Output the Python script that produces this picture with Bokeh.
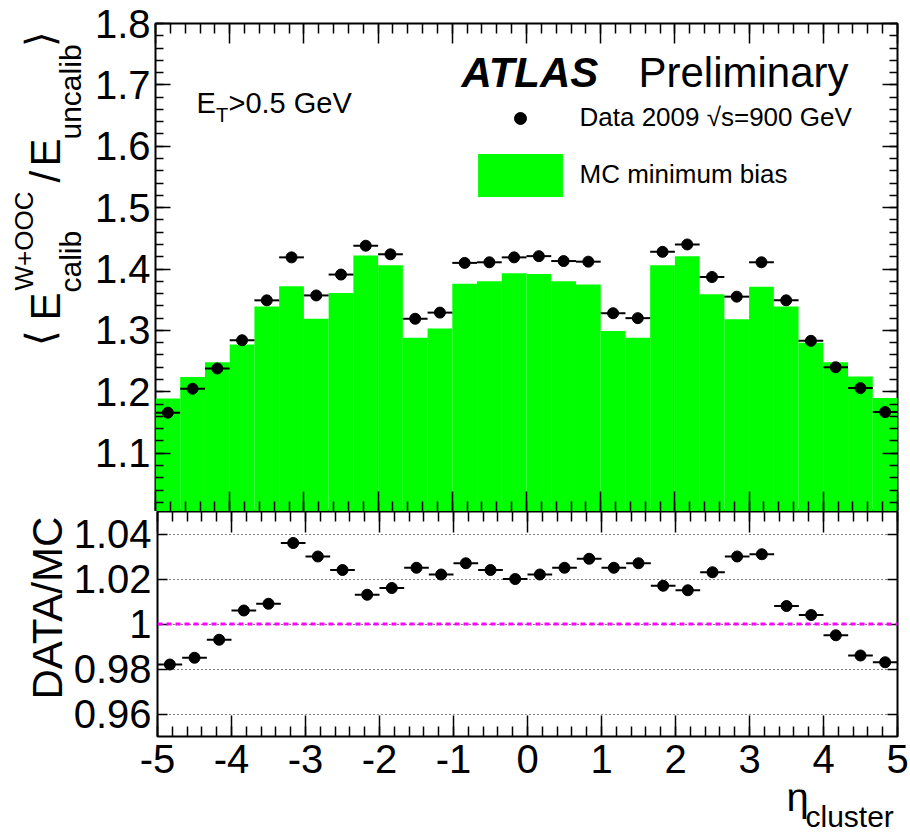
import numpy as np
from bokeh.plotting import figure
from bokeh.layouts import column, row
from bokeh.models import (LinearAxis, SingleIntervalTicker, FixedTicker, Range1d, Label,
                          Legend, LegendItem, Span, Grid, CustomLabelingPolicy)
from bokeh.embed import file_html
from bokeh.resources import INLINE

# ---------------- data ----------------
eta_edges = np.linspace(-5.0, 5.0, 31)          # 30 bins of width 1/3
data_mean = [1.166, 1.205, 1.238, 1.284, 1.349, 1.419, 1.357, 1.391, 1.438, 1.424,
             1.319, 1.329, 1.410, 1.411, 1.419, 1.421, 1.413, 1.412, 1.328, 1.320,
             1.428, 1.440, 1.387, 1.355, 1.411, 1.349, 1.283, 1.240, 1.206, 1.167]
mc_mean = [1.189, 1.224, 1.248, 1.277, 1.339, 1.372, 1.319, 1.361, 1.422, 1.406,
           1.288, 1.303, 1.376, 1.380, 1.393, 1.392, 1.380, 1.375, 1.299, 1.288,
           1.406, 1.421, 1.359, 1.318, 1.371, 1.339, 1.280, 1.248, 1.225, 1.190]
ratio = [0.982, 0.985, 0.993, 1.006, 1.009, 1.036, 1.030, 1.024, 1.013, 1.016,
         1.025, 1.022, 1.027, 1.024, 1.020, 1.022, 1.025, 1.029, 1.025, 1.027,
         1.017, 1.015, 1.023, 1.030, 1.031, 1.008, 1.004, 0.995, 0.986, 0.983]
eta_ticks = [-5, -4, -3, -2, -1, 0, 1, 2, 3, 4, 5]
eta_tick_labels = ["-5", "-4", "-3", "-2", "-1", "0", "1", "2", "3", "4", "5"]
ratio_ticks = [0.96, 0.98, 1.0, 1.02, 1.04]
ratio_tick_labels = ["0.96", "0.98", "1", "1.02", "1.04"]
ratio_ref = 1.0

FONT = "Liberation Sans"
GREEN = "#00ff00"

bin_lo = eta_edges[:-1]
bin_hi = eta_edges[1:]
bin_c = 0.5 * (bin_lo + bin_hi)

# ---------------- layout geometry (pixels) ----------------
TOTAL_W = 910
LW_TOP = 85        # strip left of the top panel (rotated title)
LW_BOT = 70        # strip left of the ratio panel ("DATA/MC")
FRAME_L, FRAME_W = 155, 742
TOP_H = 511
TOP_BORDER = 23
BOT_H = 278
BOT_FRAME_H = 225
ETA_H = 833 - TOP_H - BOT_H
BASE = 0.35        # measured shift between a Label's anchor and its drawn baseline (x font size)

# pixel -> data helpers for text placement inside the top frame (x 155..897, y 23..511)
def tx(px):
    return -5.0 + (px - 155.0) / 74.2

def ty(py):
    return 1.8 - (py - 23.0) / (488.0 / 0.795)


HIDE = "const n = indices.size; for (let i = 0; i < n; i++) { indices.unset(i) } return indices"


def axis(ticker, tin, minor_in, labels=False, size="40px", standoff=5, overrides=None):
    ax = LinearAxis(ticker=ticker)
    ax.axis_line_color = None
    ax.major_tick_in = tin
    ax.major_tick_out = 0
    ax.minor_tick_in = minor_in
    ax.minor_tick_out = 0
    ax.major_tick_line_color = "black"
    ax.minor_tick_line_color = "black"
    ax.major_tick_line_width = 1.5
    ax.minor_tick_line_width = 1.5
    if labels:
        ax.major_label_text_font = FONT
        ax.major_label_text_font_size = size
        ax.major_label_text_color = "black"
        ax.major_label_standoff = standoff
        if overrides:
            ax.major_label_overrides = overrides
    else:
        ax.major_label_text_font_size = "0px"
        ax.major_label_standoff = 0
        ax.major_label_policy = CustomLabelingPolicy(code=HIDE)
    return ax


def clear_grids(fig):
    fig.center = [r for r in fig.center if not isinstance(r, Grid)]


def lab(fig, x, y, text, size, style="normal", angle=0.0):
    fig.add_layout(Label(x=x, y=y, text=text,
                         text_font=FONT, text_font_size=f"{size}px",
                         text_font_style=style, text_baseline="alphabetic",
                         text_align="left", angle=angle, text_color="black"))


def top_text(px, base_py, text, size, style="normal"):
    lab(top, tx(px), ty(base_py - BASE * size), text, size, style)


def strip(w, h, xr, yr, mb_top=0, mb_bot=0):
    # blank figure whose data space equals page pixels (y downwards), for texts outside the frames
    f = figure(width=w, height=h, x_range=Range1d(*xr), y_range=Range1d(*yr),
               output_backend="svg", toolbar_location=None,
               x_axis_location=None, y_axis_location=None,
               min_border_left=0, min_border_right=0,
               min_border_top=mb_top, min_border_bottom=mb_bot)
    clear_grids(f)
    f.outline_line_color = None
    f.background_fill_color = "white"
    f.border_fill_color = "white"
    return f


def vtext(fig, base_px, start_py, text, size):
    # text rotated to read upwards; base_px = x of its baseline, start_py = y where it starts
    lab(fig, base_px - BASE * size, start_py, text, size, angle=np.pi / 2)


def panel(width, height, yr, ml, top_border, bottom_border):
    f = figure(width=width, height=height, x_range=Range1d(-5, 5), y_range=yr,
               output_backend="svg", toolbar_location=None,
               x_axis_location=None, y_axis_location=None,
               min_border_left=ml, min_border_right=width - ml - FRAME_W,
               min_border_top=top_border, min_border_bottom=bottom_border)
    clear_grids(f)
    f.outline_line_color = "black"
    f.outline_line_width = 2
    f.background_fill_color = "white"
    f.border_fill_color = "white"
    return f


# ---------------- top panel ----------------
top = panel(TOTAL_W - LW_TOP, TOP_H, Range1d(1.005, 1.8), FRAME_L - LW_TOP, TOP_BORDER, 0)

xt = SingleIntervalTicker(interval=1, num_minor_ticks=5)
yt = SingleIntervalTicker(interval=0.1, num_minor_ticks=5)
top.add_layout(axis(yt, 15, 8, labels=True, size="40px", standoff=5), "left")
top.add_layout(axis(yt, 15, 8), "right")
top.add_layout(axis(xt, 20, 10), "above")
top.add_layout(axis(xt, 20, 10), "below")

mc_r = top.quad(left=bin_lo, right=bin_hi, bottom=0, top=mc_mean,
                fill_color=GREEN, line_color=None)
top.segment(x0=bin_lo, x1=bin_hi, y0=data_mean, y1=data_mean,
            line_color="black", line_width=2)
data_r = top.scatter(bin_c, data_mean, size=11, color="black")

leg_data = Legend(items=[LegendItem(label="Data 2009 \u221as=900 GeV", renderers=[data_r])],
                  location=(311.5, 378), glyph_width=106, glyph_height=30,
                  label_standoff=7, padding=0, margin=0, spacing=0,
                  border_line_color=None, background_fill_alpha=0,
                  label_text_font=FONT, label_text_font_size="26px",
                  label_text_color="black")
leg_mc = Legend(items=[LegendItem(label="MC minimum bias", renderers=[mc_r])],
                location=(311.5, 309.5), glyph_width=106, glyph_height=54,
                label_standoff=7, padding=0, margin=0, spacing=0,
                border_line_color=None, background_fill_alpha=0,
                label_text_font=FONT, label_text_font_size="26px",
                label_text_color="black")
top.add_layout(leg_data)
top.add_layout(leg_mc)

top_text(461, 87, "ATLAS", 42, "bold italic")
top_text(638, 87, "Preliminary", 42)
top_text(196, 113, "E", 29)
top_text(215.5, 121, "T", 20)
top_text(228, 113, ">0.5 GeV", 29)

# ---------------- bottom (ratio) panel ----------------
bot = panel(TOTAL_W - LW_BOT, BOT_H, Range1d(0.95, 1.05), FRAME_L - LW_BOT, 0,
            BOT_H - BOT_FRAME_H)

rt = FixedTicker(ticks=ratio_ticks)
et = SingleIntervalTicker(interval=1, num_minor_ticks=5)
bot.add_layout(axis(rt, 10, 0, labels=True, size="40px", standoff=6,
                    overrides=dict(zip(ratio_ticks, ratio_tick_labels))), "left")
bot.add_layout(axis(rt, 10, 0), "right")
bot.add_layout(axis(et, 21, 10), "above")
bot.add_layout(axis(et, 21, 10, labels=True, size="40px", standoff=8,
                    overrides=dict(zip(eta_ticks, eta_tick_labels))), "below")

bot.add_layout(Grid(dimension=1, ticker=rt, grid_line_color="black",
                    grid_line_dash="1 3", grid_line_width=1))
bot.add_layout(Span(location=ratio_ref, dimension="width", line_color="#ff00ff",
                    line_dash="5 4", line_width=3))

bot.segment(x0=bin_lo, x1=bin_hi, y0=ratio, y1=ratio, line_color="black", line_width=2)
bot.scatter(bin_c, ratio, size=11, color="black")

# ---------------- text strips outside the frames (page-pixel coordinates) ----------------
left_top = strip(LW_TOP, TOP_H, (0, LW_TOP), (TOP_H, TOP_BORDER), mb_top=TOP_BORDER)
# < E^{W+OOC}_{calib} / E_{uncalib} >
vtext(left_top, 53, 345, "\u27e8", 40)
vtext(left_top, 60, 320, "E", 42)
vtext(left_top, 33, 290, "W+OOC", 26)
vtext(left_top, 80, 292, "calib", 30)
vtext(left_top, 60, 182, "/", 42)
vtext(left_top, 60, 166, "E", 42)
vtext(left_top, 80, 139, "uncalib", 30)
vtext(left_top, 53, 46, "\u27e9", 40)

left_bot = strip(LW_BOT, BOT_H, (0, LW_BOT), (TOP_H + BOT_FRAME_H, TOP_H),
                 mb_bot=BOT_H - BOT_FRAME_H)
vtext(left_bot, 62, 699, "DATA/MC", 42)

eta = strip(TOTAL_W, ETA_H, (0, TOTAL_W), (ETA_H, 0))
y0 = TOP_H + BOT_H
lab(eta, 786, 810 - y0 - BASE * 40, "\u03b7", 40)
lab(eta, 805, 826 - y0 - BASE * 30, "cluster", 30)

layout = column(row(left_top, top, spacing=0),
                row(left_bot, bot, spacing=0),
                eta, spacing=0)
open("out.html", "w").write(file_html(layout, INLINE))
